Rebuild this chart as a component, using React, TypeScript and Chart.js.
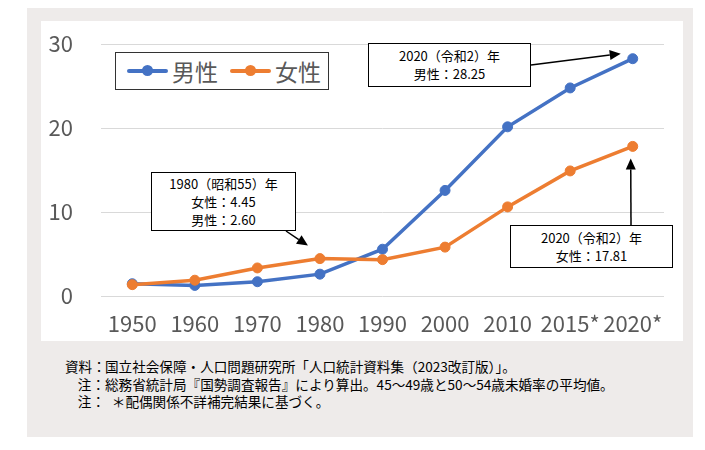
import React, { useEffect, useRef } from "react";
import { Chart, registerables } from "chart.js";

Chart.register(...registerables);

// ---- data ----
const categories = ["1950", "1960", "1970", "1980", "1990", "2000", "2010", "2015*", "2020*"];
const maleValues = [1.46, 1.26, 1.7, 2.6, 5.57, 12.57, 20.14, 24.77, 28.25];
const femaleValues = [1.35, 1.88, 3.34, 4.45, 4.33, 5.82, 10.61, 14.89, 17.81];
const seriesNames = ["男性", "女性"];
const yTickValues = [0, 10, 20, 30];
const noteLines = [
  ["資料：", "国立社会保障・人口問題研究所「人口統計資料集（2023改訂版）」。"],
  ["注：", "総務省統計局『国勢調査報告』により算出。45～49歳と50～54歳未婚率の平均値。"],
  ["注：", "\u2002＊配偶関係不詳補完結果に基づく。"],
];

// ---- styles ----
const MALE = "#4472C4";
const FEMALE = "#ED7D31";
const FONT = "'Noto Sans CJK JP', 'Noto Sans', sans-serif";
const CANVAS_LEFT = 41;
const CANVAS_TOP = 21;
const CANVAS_W = 642;
const CANVAS_H = 320;

// arrow: start in canvas coords, tip = data point + offset
const arrows = [
  { fx: 490, fy: 44, ds: 0, idx: 8, dx: -12, dy: -5 },
  { fx: 245, fy: 210, ds: 1, idx: 3, dx: -12, dy: -13 },
  { fx: 590, fy: 204, ds: 1, idx: 8, dx: -2, dy: 12 },
];

const arrowPlugin = {
  id: "arrows",
  afterDatasetsDraw(chart: any) {
    const ctx = chart.ctx;
    ctx.save();
    ctx.strokeStyle = "#000";
    ctx.fillStyle = "#000";
    ctx.lineWidth = 1.5;
    arrows.forEach((a) => {
      const pt = chart.getDatasetMeta(a.ds).data[a.idx];
      const tx = pt.x + a.dx;
      const ty = pt.y + a.dy;
      const ang = Math.atan2(ty - a.fy, tx - a.fx);
      const head = 11;
      const half = 5;
      const bx = tx - head * Math.cos(ang);
      const by = ty - head * Math.sin(ang);
      ctx.beginPath();
      ctx.moveTo(a.fx, a.fy);
      ctx.lineTo(bx, by);
      ctx.stroke();
      ctx.beginPath();
      ctx.moveTo(tx, ty);
      ctx.lineTo(bx + half * Math.sin(ang), by - half * Math.cos(ang));
      ctx.lineTo(bx - half * Math.sin(ang), by + half * Math.cos(ang));
      ctx.closePath();
      ctx.fill();
    });
    ctx.restore();
  },
};

function LegendSymbol({ color }: { color: string }) {
  return (
    <span style={{ position: "relative", display: "inline-block", width: 41, height: 12, marginRight: 4 }}>
      <span style={{ position: "absolute", left: 0, top: 4, width: 41, height: 4, background: color, borderRadius: 2 }} />
      <span style={{ position: "absolute", left: 15, top: 0, width: 11, height: 11, background: color, borderRadius: "50%" }} />
    </span>
  );
}

function NoteBox({ left, top, width, height, lines }: { left: number; top: number; width: number; height: number; lines: string[] }) {
  return (
    <div
      style={{
        position: "absolute",
        left,
        top,
        width,
        height,
        boxSizing: "border-box",
        border: "1.5px solid #000",
        background: "#fff",
        display: "flex",
        flexDirection: "column",
        justifyContent: "center",
        alignItems: "center",
        fontFamily: FONT,
        fontSize: 13,
        lineHeight: "18px",
        color: "#000",
        zIndex: 2,
      }}
    >
      {lines.map((l, i) => (
        <div key={i}>{l}</div>
      ))}
    </div>
  );
}

export default function App() {
  const canvasRef = useRef<HTMLCanvasElement | null>(null);

  useEffect(() => {
    if (!canvasRef.current) return;
    const chart = new Chart(canvasRef.current, {
      type: "line",
      data: {
        labels: categories,
        datasets: [
          {
            label: seriesNames[0],
            data: maleValues,
            borderColor: MALE,
            backgroundColor: MALE,
            borderWidth: 3.5,
            pointRadius: 5,
            pointBorderWidth: 1,
            pointBackgroundColor: MALE,
            pointBorderColor: MALE,
            tension: 0,
            order: 2,
          },
          {
            label: seriesNames[1],
            data: femaleValues,
            borderColor: FEMALE,
            backgroundColor: FEMALE,
            borderWidth: 3.5,
            pointRadius: 5,
            pointBorderWidth: 1,
            pointBackgroundColor: FEMALE,
            pointBorderColor: FEMALE,
            tension: 0,
            order: 1,
          },
        ],
      },
      options: {
        responsive: false,
        animation: false,
        events: [],
        layout: { padding: { top: 23, right: 19, left: 0, bottom: 0 } },
        plugins: {
          legend: { display: false },
          tooltip: { enabled: false },
        },
        scales: {
          x: {
            offset: true,
            grid: { display: false, drawTicks: false },
            border: { display: false },
            ticks: {
              color: "#595959",
              font: { family: FONT, size: 22 },
              padding: 14,
              maxRotation: 0,
              autoSkip: false,
            },
            afterFit: (s: any) => {
              s.height = 45;
              s.paddingLeft = 0;
              s.paddingRight = 0;
            },
          },
          y: {
            min: 0,
            max: 30,
            afterBuildTicks: (s: any) => {
              s.ticks = yTickValues.map((v) => ({ value: v }));
            },
            grid: { color: "#D9D9D9", lineWidth: 1, drawTicks: false },
            border: { display: false },
            ticks: {
              color: "#595959",
              font: { family: FONT, size: 22 },
              padding: 28,
            },
            afterFit: (s: any) => {
              s.width = 60;
              s.paddingTop = 0;
              s.paddingBottom = 0;
            },
          },
        },
      },
      plugins: [arrowPlugin],
    });
    return () => chart.destroy();
  }, []);

  const m = maleValues[8].toFixed(2);
  const f20 = femaleValues[8].toFixed(2);
  const f80 = femaleValues[3].toFixed(2);
  const m80 = maleValues[3].toFixed(2);

  return (
    <div style={{ position: "absolute", left: 0, top: 0, width: 705, height: 450, background: "#fff" }}>
      <div style={{ position: "absolute", left: 27, top: 8, width: 666, height: 429, background: "#EEEBEA" }} />
      <div style={{ position: "absolute", left: CANVAS_LEFT, top: CANVAS_TOP, width: CANVAS_W, height: CANVAS_H, background: "#fff" }}>
        <canvas ref={canvasRef} width={CANVAS_W} height={CANVAS_H} style={{ display: "block" }} />
      </div>

      {/* legend */}
      <div
        style={{
          position: "absolute",
          left: 115,
          top: 52,
          width: 214,
          height: 38,
          boxSizing: "border-box",
          border: "1.5px solid #333",
          background: "#fff",
          display: "flex",
          alignItems: "center",
          paddingLeft: 11,
          fontFamily: FONT,
          fontSize: 23,
          color: "#595959",
          zIndex: 2,
        }}
      >
        <LegendSymbol color={MALE} />
        <span style={{ marginRight: 12, lineHeight: "30px" }}>{seriesNames[0]}</span>
        <LegendSymbol color={FEMALE} />
        <span style={{ lineHeight: "30px" }}>{seriesNames[1]}</span>
      </div>

      <NoteBox left={368} top={43} width={163} height={44} lines={["2020（令和2）年", `男性：${m}`]} />
      <NoteBox left={151} top={172} width={145} height={59} lines={["1980（昭和55）年", `女性：${f80}`, `男性：${m80}`]} />
      <NoteBox left={510} top={225} width={163} height={43} lines={["2020（令和2）年", `女性：${f20}`]} />

      {/* notes */}
      <div style={{ position: "absolute", left: 65, top: 358, fontFamily: FONT, fontSize: 13.6, lineHeight: "17.5px", color: "#000", whiteSpace: "pre" }}>
        {noteLines.map((l, i) => (
          <div key={i}>
            <span style={{ display: "inline-block", width: 40, textAlign: "right" }}>{l[0]}</span>
            <span>{l[1]}</span>
          </div>
        ))}
      </div>
    </div>
  );
}
